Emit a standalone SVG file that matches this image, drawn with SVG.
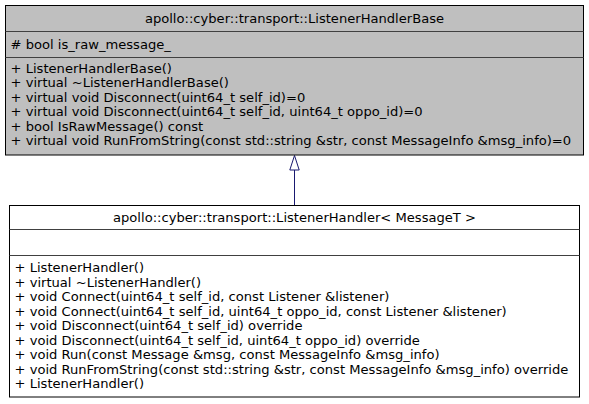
<svg xmlns="http://www.w3.org/2000/svg" width="589" height="404" viewBox="0 0 589 404">
<style>
text{font-family:"DejaVu Sans","Liberation Sans",sans-serif;font-size:13.1px;fill:#000}
.c{text-anchor:middle}
.box{stroke:#000;stroke-width:1}
.div{stroke:#404040;stroke-width:1}
.edge{stroke:#191970;stroke-width:1;fill:none}
</style>
<rect width="589" height="404" fill="#fff"/>
<g id="connectors">
<line class="edge" x1="294.5" y1="170" x2="294.5" y2="205"/>
<polygon class="edge" points="294.5,155.5 299.2,170 289.8,170"/>
</g>
<g id="ListenerHandlerBase">
<rect class="box" x="5.5" y="5.5" width="578" height="149.5" fill="#bfbfbf"/>
<line class="div" x1="5.5" y1="31.5" x2="583.5" y2="31.5"/>
<line class="div" x1="5.5" y1="57.5" x2="583.5" y2="57.5"/>
<text class="c" x="294.5" y="23">apollo::cyber::transport::ListenerHandlerBase</text>
<text x="10.5" y="49"># bool is_raw_message_</text>
<text x="10.5" y="72.5">+ ListenerHandlerBase()</text>
<text x="10.5" y="87">+ virtual ~ListenerHandlerBase()</text>
<text x="10.5" y="101.5">+ virtual void Disconnect(uint64_t self_id)=0</text>
<text x="10.5" y="116">+ virtual void Disconnect(uint64_t self_id, uint64_t oppo_id)=0</text>
<text x="10.5" y="130.5">+ bool IsRawMessage() const</text>
<text x="10.5" y="145">+ virtual void RunFromString(const std::string &amp;str, const MessageInfo &amp;msg_info)=0</text>
</g>
<g id="ListenerHandler">
<rect class="box" x="9.5" y="205.5" width="570" height="191.5" fill="#fff"/>
<line class="div" x1="9.5" y1="229.5" x2="579.5" y2="229.5"/>
<line class="div" x1="9.5" y1="255.5" x2="579.5" y2="255.5"/>
<text class="c" x="294.5" y="222">apollo::cyber::transport::ListenerHandler&lt; MessageT &gt;</text>
<text x="14.5" y="272">+ ListenerHandler()</text>
<text x="14.5" y="286.5">+ virtual ~ListenerHandler()</text>
<text x="14.5" y="301">+ void Connect(uint64_t self_id, const Listener &amp;listener)</text>
<text x="14.5" y="315.5">+ void Connect(uint64_t self_id, uint64_t oppo_id, const Listener &amp;listener)</text>
<text x="14.5" y="330">+ void Disconnect(uint64_t self_id) override</text>
<text x="14.5" y="344.5">+ void Disconnect(uint64_t self_id, uint64_t oppo_id) override</text>
<text x="14.5" y="359">+ void Run(const Message &amp;msg, const MessageInfo &amp;msg_info)</text>
<text x="14.5" y="373.5">+ void RunFromString(const std::string &amp;str, const MessageInfo &amp;msg_info) override</text>
<text x="14.5" y="388">+ ListenerHandler()</text>
</g>
</svg>
